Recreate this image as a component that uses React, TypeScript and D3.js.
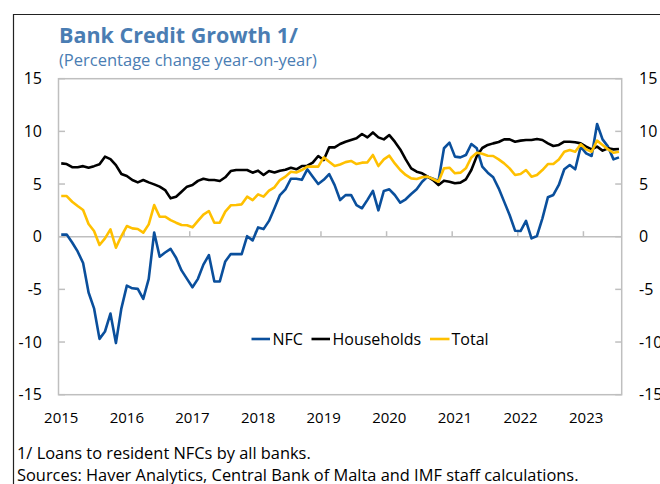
import React from 'react';
import * as d3 from 'd3';

// Monthly data, Jan 2015 – Jul 2023 (year-on-year % change)
const nfc = [
  0.2, 0.2, -0.55, -1.4, -2.5, -5.3, -6.8, -9.7, -9.0, -7.3, -10.1, -6.8,
  -4.65, -4.9, -4.95, -5.9, -4.0, 0.4, -1.9, -1.5, -1.15, -2.0, -3.2, -4.0,
  -4.8, -4.0, -2.65, -1.74, -4.25, -4.25, -2.35, -1.65, -1.65, -1.65, 0.05, -0.35,
  0.88, 0.72, 1.5, 2.7, 3.95, 4.5, 5.5, 5.5, 5.4, 6.4, 5.7, 5.0,
  5.4, 5.95, 4.9, 3.48, 3.95, 3.96, 3.0, 2.7, 3.5, 4.35, 2.5, 4.35,
  4.5, 3.96, 3.23, 3.55, 4.05, 4.5, 5.22, 5.7, 5.5, 5.3, 8.4, 8.93,
  7.6, 7.53, 7.75, 8.8, 8.39, 6.65, 6.08, 5.64, 4.59, 3.33, 2.06, 0.57,
  0.54, 1.5, -0.16, 0.07, 1.74, 3.74, 3.96, 4.91, 6.4, 6.81, 6.4, 8.55,
  7.91, 7.66, 10.7, 9.24, 8.55, 7.34, 7.53,
];
const households = [
  6.96, 6.9, 6.6, 6.6, 6.7, 6.55, 6.7, 6.87, 7.6, 7.37, 6.8, 5.95,
  5.76, 5.38, 5.16, 5.38, 5.16, 4.97, 4.75, 4.43, 3.64, 3.8, 4.27, 4.75,
  4.9, 5.3, 5.5, 5.38, 5.38, 5.29, 5.64, 6.23, 6.33, 6.33, 6.33, 6.08,
  6.27, 5.86, 6.24, 6.1, 6.27, 6.36, 6.55, 6.4, 6.71, 6.74, 7.03, 7.66,
  7.28, 8.48, 8.48, 8.8, 9.02, 9.18, 9.34, 9.75, 9.43, 9.9, 9.43, 9.24,
  9.65, 9.02, 8.29, 7.34, 6.49, 6.17, 6.02, 5.7, 5.38, 4.9, 5.32, 5.22,
  5.07, 5.13, 5.45, 6.33, 7.65, 8.42, 8.71, 8.86, 8.99, 9.24, 9.24, 9.02,
  9.12, 9.18, 9.18, 9.27, 9.18, 8.86, 8.61, 8.71, 9.02, 9.02, 8.96, 8.86,
  8.55, 8.29, 8.55, 8.17, 8.39, 8.29, 8.32,
];
const total = [
  3.86, 3.86, 3.32, 2.91, 2.53, 1.2, 0.54, -0.79, -0.16, 0.7, -1.04, 0.06,
  1.01, 0.79, 0.73, 0.38, 1.17, 3.0, 1.9, 1.9, 1.58, 1.33, 1.11, 1.08,
  0.89, 1.5, 2.1, 2.44, 1.33, 1.33, 2.38, 2.98, 3.01, 3.07, 3.8, 3.48,
  4.02, 3.8, 4.37, 4.69, 5.38, 5.7, 6.17, 6.1, 6.33, 6.65, 6.65, 6.65,
  7.53, 7.12, 6.71, 6.85, 7.08, 7.19, 6.9, 7.03, 7.06, 7.76, 6.71, 7.34,
  7.69, 6.96, 6.33, 5.86, 5.54, 5.48, 5.64, 5.7, 5.48, 5.22, 6.49, 6.55,
  6.02, 6.08, 6.49, 7.53, 7.97, 7.88, 7.69, 7.66, 7.34, 6.96, 6.49, 5.86,
  5.95, 6.33, 5.7, 5.86, 6.33, 6.9, 6.9, 7.34, 8.07, 8.23, 8.07, 8.77,
  8.29, 8.07, 9.12, 8.71, 8.29, 7.97, 8.07,
];
const yearLabels = ['2015', '2016', '2017', '2018', '2019', '2020', '2021', '2022', '2023'];
const yTicks = [-15, -10, -5, 0, 5, 10, 15];

const seriesNames = ['NFC', 'Households', 'Total'];
const seriesColors = ['#0a4f9c', '#000000', '#ffc000'];

const FONT = "'Open Sans', 'Noto Sans', sans-serif";
const TITLE_COLOR = '#4a7db3';
const AXIS_GRAY = '#bfbfbf';

export default function App() {
  const W = 660, H = 484;
  const left = 58.5, right = 621.7, top = 78.7, bottom = 394.7;
  const n = nfc.length;
  const x = d3.scaleLinear().domain([-0.5, n - 0.5]).range([left, right]);
  const y = d3.scaleLinear().domain([-15, 15]).range([bottom, top]);
  const line = d3.line<number>().x((_, i) => x(i)).y((d) => y(d));
  const data = [nfc, households, total];

  const legendItems = [
    { x1: 251.5, x2: 270, tx: 272.5 },
    { x1: 311.5, x2: 330, tx: 332.5 },
    { x1: 430, x2: 449.5, tx: 451.5 },
  ];
  const legendY = 339;

  return (
    <svg width={W} height={H} style={{ position: 'absolute', left: 0, top: 0, background: '#fff' }}
      fontFamily={FONT}>
      <rect x={0} y={0} width={W} height={H} fill="#fff" />
      {/* outer frame */}
      <path d={`M13.5,${H + 2} V14.5 H${W + 2}`} fill="none" stroke="#222" strokeWidth={1.2} />
      {/* title */}
      <text x={59} y={43} fontSize={21.5} fontWeight={700} fill={TITLE_COLOR}>Bank Credit Growth 1/</text>
      <text x={59} y={66} fontSize={16.5} fill={TITLE_COLOR}>(Percentage change year-on-year)</text>

      {/* plot frame */}
      <rect x={left} y={top} width={right - left} height={bottom - top} fill="none" stroke={AXIS_GRAY} strokeWidth={1.5} />
      {/* zero line */}
      <line x1={left} x2={right} y1={y(0)} y2={y(0)} stroke={AXIS_GRAY} strokeWidth={1.5} />
      {/* y ticks */}
      {yTicks.map((t) => (
        <g key={t}>
          <line x1={left} x2={left + 6.5} y1={y(t)} y2={y(t)} stroke={AXIS_GRAY} strokeWidth={1.5} />
          <line x1={right - 6.5} x2={right} y1={y(t)} y2={y(t)} stroke={AXIS_GRAY} strokeWidth={1.5} />
          <text x={42} y={y(t) + 5.5} fontSize={16} textAnchor="end" fill="#000">{t}</text>
          <text x={639} y={y(t) + 5.5} fontSize={16} textAnchor="start" fill="#000">{t}</text>
        </g>
      ))}
      {/* x ticks (on zero line) and labels */}
      {yearLabels.map((lab, k) => (
        <g key={lab}>
          {k > 0 && (
            <line x1={x(12 * k - 0.5)} x2={x(12 * k - 0.5)} y1={y(0)} y2={y(0) - 5.5} stroke={AXIS_GRAY} strokeWidth={1.5} />
          )}
          <text x={x(12 * k)} y={423} fontSize={15} textAnchor="middle" fill="#000">{lab}</text>
        </g>
      ))}

      {/* series */}
      {data.map((d, i) => (
        <path key={i} d={line(d) || ''} fill="none" stroke={seriesColors[i]} strokeWidth={2.6} strokeLinejoin="round" />
      ))}

      {/* legend */}
      {seriesNames.map((name, i) => (
        <g key={name}>
          <line x1={legendItems[i].x1} x2={legendItems[i].x2} y1={legendY} y2={legendY} stroke={seriesColors[i]} strokeWidth={2.6} />
          <text x={legendItems[i].tx} y={legendY + 5.8} fontSize={16} fill="#000">{name}</text>
        </g>
      ))}

      {/* footnotes */}
      <text x={17} y={459} fontSize={16.4} fill="#000">1/ Loans to resident NFCs by all banks.</text>
      <text x={17} y={481} fontSize={16.4} fill="#000">Sources: Haver Analytics, Central Bank of Malta and IMF staff calculations.</text>
    </svg>
  );
}
